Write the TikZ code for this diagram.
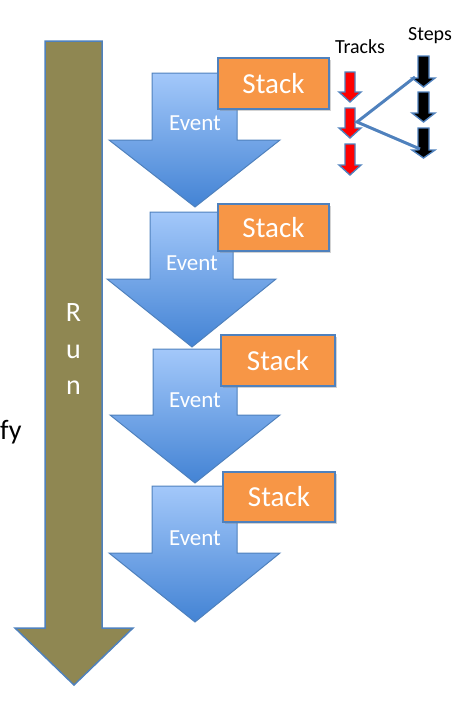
\documentclass[tikz,border=0pt]{standalone}
\usepackage{fontspec}
\setmainfont{Carlito}
\usetikzlibrary{shadows}
\definecolor{runfill}{HTML}{8F8752}
\definecolor{edgeblue}{HTML}{4F81BD}
\definecolor{evtop}{HTML}{A3C8FA}
\definecolor{evbot}{HTML}{4383D4}
\definecolor{stackfill}{HTML}{F79646}
\newcommand\evarrow[8]{\path[evarrowsty] (#1,#3) -- (#2,#3) -- (#2,#6) -- (#5,#6) -- (#7,#8) -- (#4,#6) -- (#1,#6) -- cycle;}
\newcommand\smallarrow[7]{\path[#1] (#2-#6,#3) -- (#2+#6,#3) -- (#2+#6,#4) -- (#2+#7,#4) -- (#2,#5) -- (#2-#7,#4) -- (#2-#6,#4) -- cycle;}
\tikzset{
  evarrowsty/.style={draw=edgeblue, line width=1pt, top color=evtop, bottom color=evbot},
  stackbox/.style={draw=edgeblue, line width=1.5pt, fill=stackfill, text=white, font=\fontsize{29}{29}\selectfont, inner sep=0pt, drop shadow={opacity=0.35, shadow xshift=2pt, shadow yshift=-2pt}},
  evtext/.style={text=white, font=\fontsize{23}{23}\selectfont},
  runtext/.style={text=white, font=\fontsize{28}{28}\selectfont},
  lbl/.style={text=black, font=\fontsize{20}{20}\selectfont},
  redarr/.style={fill=red, draw=edgeblue, line width=1.4pt},
  blkarr/.style={fill=black, draw=edgeblue, line width=1.4pt},
  link/.style={draw=edgeblue, line width=3pt}
}
\begin{document}
\begin{tikzpicture}[x=1pt,y=-1pt]
\useasboundingbox (0,0) rectangle (467,710);
% Run arrow
\path[draw=edgeblue, line width=1.5pt, fill=runfill] (45,41) -- (102,41) -- (102,628) -- (133,628) -- (74,685) -- (15,628) -- (45,628) -- cycle;
\node[runtext] (r1) at (73.5,313) {R};
\node[runtext] (r2) at (73.5,352) {u};
\node[runtext] (r3) at (73.5,388) {n};
\node[anchor=base west, inner sep=0pt, font=\fontsize{28}{28}\selectfont] (fy) at (0,439) {fy};
% Event arrows
\evarrow{152}{237}{73}{109}{280}{140}{195}{207}
\evarrow{150}{233}{212}{107}{276}{279}{192}{347}
\evarrow{153}{237}{349}{110}{280}{415}{195}{483}
\evarrow{152}{237}{486}{109}{280}{553}{195}{622}
\node[evtext] (e1) at (195,123) {Event};
\node[evtext] (e2) at (192,263) {Event};
\node[evtext] (e3) at (195,400) {Event};
\node[evtext] (e4) at (195,538) {Event};
% Stacks
\node[stackbox, minimum width=111pt, minimum height=51pt] (s1) at (273.5,83.5) {Stack};
\node[stackbox, minimum width=111pt, minimum height=47pt] (s2) at (273.5,227.5) {Stack};
\node[stackbox, minimum width=114pt, minimum height=51pt] (s3) at (278,360.5) {Stack};
\node[stackbox, minimum width=112pt, minimum height=50pt] (s4) at (279,497) {Stack};
% Tracks and steps
\node[lbl] (tracks) at (360,47) {Tracks};
\node[lbl] (steps) at (430,36) {Steps};
\smallarrow{redarr}{350}{72}{92}{102}{5}{11}
\smallarrow{redarr}{350}{108}{128}{138}{5}{11}
\smallarrow{redarr}{350}{144}{165}{175}{5}{11}
\smallarrow{blkarr}{423.5}{56}{78}{87}{5.5}{11.5}
\smallarrow{blkarr}{423.5}{92}{113}{122}{5.5}{11.5}
\smallarrow{blkarr}{423.5}{128}{150}{158}{5.5}{11.5}
\coordinate (t2) at (357,122);
\coordinate (st1) at (415,77);
\coordinate (st3) at (420,149);
\draw[link] (st1) -- (t2) -- (st3);
\end{tikzpicture}
\end{document}
